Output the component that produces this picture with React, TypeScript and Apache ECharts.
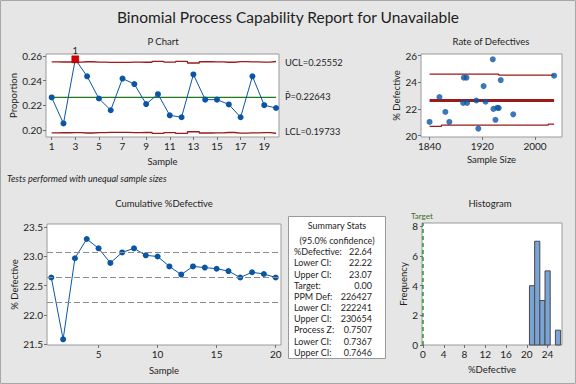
import React, { useEffect, useRef } from "react";
import * as echarts from "echarts";

const samples = [1, 2, 3, 4, 5, 6, 7, 8, 9, 10, 11, 12, 13, 14, 15, 16, 17, 18, 19, 20];
const proportion = [0.2264, 0.2053, 0.2573, 0.2435, 0.2255, 0.216, 0.2417, 0.2372, 0.221, 0.229, 0.2119, 0.2103, 0.245, 0.2246, 0.2246, 0.2207, 0.2103, 0.2435, 0.2201, 0.2178];
const uclP = [0.25515, 0.25513, 0.25497, 0.2553, 0.25505, 0.25474, 0.25489, 0.25507, 0.25491, 0.25558, 0.25494, 0.2557, 0.2543, 0.25531, 0.25526, 0.2549, 0.25547, 0.25527, 0.25496, 0.25552];
const lclP = [0.19771, 0.19773, 0.1979, 0.19756, 0.19781, 0.19812, 0.19798, 0.19779, 0.19795, 0.19728, 0.19792, 0.19716, 0.19856, 0.19755, 0.1976, 0.19796, 0.1974, 0.1976, 0.1979, 0.19733];
const pBar = 0.22643;
const outOfControl = [3];

const sampleSize = [1911, 1914, 1936, 1892, 1925, 1967, 1948, 1922, 1943, 1855, 1940, 1840, 2029, 1891, 1897, 1945, 1870, 1896, 1937, 1864];
const rateCenter = [[1840, 22.64], [2029, 22.64]];
const rateUpper = [[1840, 24.62], [1945, 24.62], [1945, 24.55], [2029, 24.55]];
const rateLower = [[1840, 20.7], [1858, 20.7], [1858, 20.79], [2020, 20.79], [2020, 20.86], [2029, 20.86]];

const cumulativePct = [22.64, 21.58, 22.97, 23.3, 23.14, 22.89, 23.07, 23.14, 23.02, 23.0, 22.83, 22.69, 22.83, 22.81, 22.79, 22.75, 22.64, 22.73, 22.7, 22.64];
const cumRefLines = [23.07, 22.64, 22.22];

const histCenters = [21, 22, 23, 24, 25, 26];
const histCounts = [4, 7, 3, 5, 0, 1];
const histBinWidth = 1;
const target = 0;

const statLabels = ["%Defective:", "Lower CI:", "Upper CI:", "Target:", "PPM Def:", "Lower CI:", "Upper CI:", "Process Z:", "Lower CI:", "Upper CI:"];
const statValues = ["22.64", "22.22", "23.07", "0.00", "226427", "222241", "230654", "0.7507", "0.7367", "0.7646"];

const pTicksX = [1, 3, 5, 7, 9, 11, 13, 15, 17, 19];
const pTicksY = [0.2, 0.22, 0.24, 0.26];
const rateTicksX = [1840, 1920, 2000];
const rateTicksY = [20, 22, 24, 26];
const cumTicksX = [5, 10, 15, 20];
const cumTicksY = [21.5, 22.0, 22.5, 23.0, 23.5];
const histTicksX = [0, 4, 8, 12, 16, 20, 24];
const histTicksY = [0, 2, 4, 6, 8];

const FONT = "Lato";
const TXT = "#1e1e1e";
const BLUE = "#0b56a4";
const DARKRED = "#9b1a1a";
const GREEN = "#1f7a1f";

function valAxis(gridIndex: number, min: number, max: number, ticks: number[], digits: number | null, extra: any = {}) {
  return {
    type: "value",
    gridIndex,
    min,
    max,
    axisLine: { show: false },
    splitLine: { show: false },
    axisTick: { show: true, customValues: ticks, length: 3, inside: false, lineStyle: { color: "#707070" } },
    axisLabel: {
      show: true,
      customValues: ticks,
      fontFamily: FONT,
      fontSize: 10,
      color: TXT,
      margin: 4,
      formatter: (v: number) => (digits === null ? String(v) : v.toFixed(digits)),
    },
    nameLocation: "middle",
    nameTextStyle: { fontFamily: FONT, fontSize: 9.5, color: TXT },
    ...extra,
  };
}

function txt(x: number, y: number, text: string, font: string, fill = TXT, align = "left") {
  return { type: "text", x, y, style: { text, font, fill, align, verticalAlign: "middle" } };
}

export default function App() {
  const ref = useRef<HTMLDivElement>(null);
  useEffect(() => {
    if (!ref.current) return;
    const chart = echarts.init(ref.current, null, { renderer: "svg" });
    const gridStyle = { show: true, backgroundColor: "#ffffff", borderColor: "#9a9a9a", borderWidth: 1 };

    const pData = samples.map((s, i) => {
      const isOut = outOfControl.indexOf(s) >= 0;
      if (isOut) {
        return {
          value: [s, proportion[i]],
          symbol: "rect",
          symbolSize: 7,
          itemStyle: { color: "#d40000", borderColor: "#8a0000", borderWidth: 0.5 },
          label: { show: true, formatter: "1", position: "top", distance: 0, fontFamily: FONT, fontSize: 9.5, color: TXT },
        };
      }
      return { value: [s, proportion[i]] };
    });

    const statFont = `9px "${FONT}"`;
    const statTexts: any[] = [];
    statLabels.forEach((l, i) => {
      statTexts.push(txt(294, 251.7 + i * 11.18, l, statFont));
      statTexts.push(txt(372, 251.7 + i * 11.18, statValues[i], statFont, TXT, "right"));
    });
    const subFont = `9.5px "${FONT}"`;

    chart.setOption({
      animation: false,
      backgroundColor: "#e6e6e6",
      textStyle: { fontFamily: FONT },
      grid: [
        { left: 46, top: 54, width: 233, height: 83, ...gridStyle },
        { left: 421, top: 54, width: 141, height: 83, ...gridStyle },
        { left: 47, top: 224, width: 234, height: 121, ...gridStyle },
        { left: 422, top: 223, width: 140, height: 122, ...gridStyle },
      ],
      xAxis: [
        valAxis(0, 0.52, 20.25, pTicksX, null, { name: "Sample", nameGap: 19 }),
        valAxis(1, 1827, 2041, rateTicksX, null, { name: "Sample Size", nameGap: 17 }),
        valAxis(2, 0.635, 20.45, cumTicksX, null, { name: "Sample", nameGap: 20 }),
        valAxis(3, -0.19, 26.77, histTicksX, null, { name: "%Defective", nameGap: 19 }),
      ],
      yAxis: [
        valAxis(0, 0.1943, 0.2616, pTicksY, 2, { name: "Proportion", nameGap: 25 }),
        valAxis(1, 19.9, 26.13, rateTicksY, null, { name: "% Defective", nameGap: 16 }),
        valAxis(2, 21.483, 23.557, cumTicksY, 1, { name: "% Defective", nameGap: 25 }),
        valAxis(3, 0, 8.23, histTicksY, null, { name: "Frequency", nameGap: 14 }),
      ],
      series: [
        {
          type: "line", xAxisIndex: 0, yAxisIndex: 0, step: "middle", symbol: "none",
          data: samples.map((s, i) => [s, uclP[i]]), lineStyle: { color: DARKRED, width: 1.3 }, z: 2,
        },
        {
          type: "line", xAxisIndex: 0, yAxisIndex: 0, step: "middle", symbol: "none",
          data: samples.map((s, i) => [s, lclP[i]]), lineStyle: { color: DARKRED, width: 1.3 }, z: 2,
        },
        {
          type: "line", xAxisIndex: 0, yAxisIndex: 0, symbol: "none",
          data: [[samples[0], pBar], [samples[samples.length - 1], pBar]], lineStyle: { color: GREEN, width: 1.3 }, z: 2,
        },
        {
          type: "line", xAxisIndex: 0, yAxisIndex: 0, symbol: "circle", symbolSize: 6,
          data: pData, lineStyle: { color: BLUE, width: 1 }, itemStyle: { color: BLUE }, z: 3,
        },
        {
          type: "line", xAxisIndex: 1, yAxisIndex: 1, symbol: "none", data: rateUpper, lineStyle: { color: DARKRED, width: 1.3 },
        },
        {
          type: "line", xAxisIndex: 1, yAxisIndex: 1, symbol: "none", data: rateLower, lineStyle: { color: DARKRED, width: 1.3 },
        },
        {
          type: "line", xAxisIndex: 1, yAxisIndex: 1, symbol: "none", data: rateCenter, lineStyle: { color: DARKRED, width: 3 },
        },
        {
          type: "scatter", xAxisIndex: 1, yAxisIndex: 1, symbolSize: 6,
          data: sampleSize.map((n, i) => [n, proportion[i] * 100]), itemStyle: { color: BLUE }, z: 3,
        },
        {
          type: "line", xAxisIndex: 2, yAxisIndex: 2, symbol: "circle", symbolSize: 6,
          data: samples.map((s, i) => [s, cumulativePct[i]]), lineStyle: { color: BLUE, width: 1 }, itemStyle: { color: BLUE }, z: 3,
          markLine: {
            silent: true, symbol: "none", label: { show: false },
            lineStyle: { color: "#8c8c8c", type: [6, 3], width: 1.2 },
            data: cumRefLines.map((v) => ({ yAxis: v })),
          },
        },
        {
          type: "custom", xAxisIndex: 3, yAxisIndex: 3,
          data: histCenters.map((c, i) => [c, histCounts[i]]),
          renderItem: (params: any, api: any) => {
            const c = api.value(0);
            const h = api.value(1);
            if (!h) return null;
            const p0 = api.coord([c - histBinWidth / 2, h]);
            const p1 = api.coord([c + histBinWidth / 2, 0]);
            return {
              type: "rect",
              shape: { x: p0[0], y: p0[1], width: p1[0] - p0[0], height: p1[1] - p0[1] },
              style: { fill: "#7aa3d6", stroke: "#4a4a4a", lineWidth: 1 },
            };
          },
        },
        {
          type: "line", xAxisIndex: 3, yAxisIndex: 3, symbol: "none",
          data: [[target, 0], [target, 8.23]], lineStyle: { color: "#1e8a2e", type: [4, 3], width: 1.4 },
        },
      ],
      graphic: [
        { type: "rect", x: 0.5, y: 0.5, shape: { width: 575, height: 383 }, style: { fill: "none", stroke: "#a8a8a8", lineWidth: 1 }, silent: true, z: -10 },
        txt(288, 17, "Binomial Process Capability Report for Unavailable", `15.5px "${FONT}"`, TXT, "center"),
        txt(163, 41, "P Chart", subFont, TXT, "center"),
        txt(491, 41, "Rate of Defectives", subFont, TXT, "center"),
        txt(164, 203, "Cumulative %Defective", subFont, TXT, "center"),
        txt(490, 203, "Histogram", subFont, TXT, "center"),
        txt(285, 62.5, "UCL=0.25552", `9.3px "${FONT}"`),
        txt(285, 96.5, "P\u0304=0.22643", `9.3px "${FONT}"`),
        txt(285, 131.5, "LCL=0.19733", `9.3px "${FONT}"`),
        txt(7, 178, "Tests performed with unequal sample sizes", `italic 9.1px "${FONT}"`),
        txt(411, 216, "Target", `8px "${FONT}"`, "#3d6b1f"),
        { type: "rect", x: 288.5, y: 216.5, shape: { width: 97, height: 142 }, style: { fill: "#ffffff", stroke: "#9a9a9a", lineWidth: 1 } },
        txt(337, 225, "Summary Stats", statFont, TXT, "center"),
        txt(337, 240, "(95.0% confidence)", statFont, TXT, "center"),
        ...statTexts,
      ],
    });
    return () => chart.dispose();
  }, []);
  return <div ref={ref} style={{ position: "fixed", left: 0, top: 0, width: 576, height: 384 }} />;
}
